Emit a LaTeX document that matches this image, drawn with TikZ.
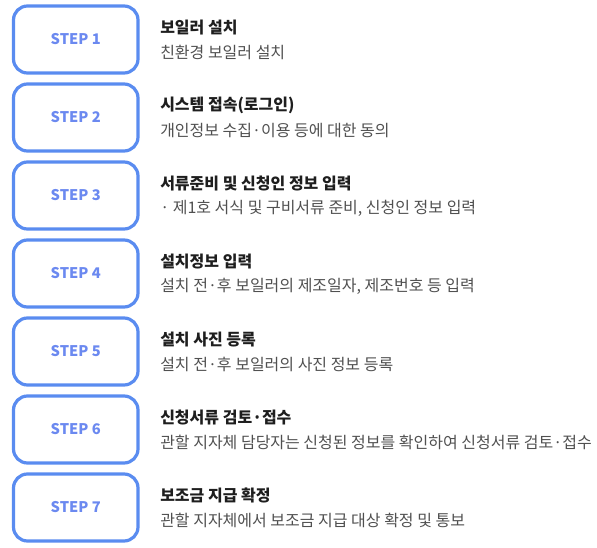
\documentclass[tikz,border=0pt]{standalone}
\usepackage{fontspec}
\setmainfont{Noto Sans CJK KR}
\newfontfamily\kr{Noto Sans CJK KR}
\definecolor{boxblue}{HTML}{5A8CF0}
\definecolor{steptxt}{HTML}{6B89F0}
\definecolor{titletxt}{HTML}{1E1E1E}
\definecolor{desctxt}{HTML}{505050}
\tikzset{
  stepbox/.style={draw=boxblue, line width=2.4pt, rounded corners=10.5pt, minimum width=124.5*0.75pt, minimum height=67*0.75pt, inner sep=0pt, text=steptxt, font=\kr\fontsize{11pt}{13pt}\selectfont\bfseries},
  titlelbl/.style={anchor=west, inner sep=0pt, text=titletxt, font=\kr\fontsize{12pt}{14pt}\selectfont\bfseries},
  desclbl/.style={anchor=west, inner sep=0pt, text=desctxt, font=\kr\fontsize{12pt}{14pt}\selectfont},
}
\begin{document}
\begin{tikzpicture}[x=0.75pt,y=-0.75pt]
\useasboundingbox (0,0) rectangle (597,547);
\foreach \i/\t/\d in {
 1/{보일러 설치}/{친환경 보일러 설치},
 2/{시스템 접속(로그인)}/{개인정보 수집·이용 등에 대한 동의},
 3/{서류준비 및 신청인 정보 입력}/{· 제1호 서식 및 구비서류 준비, 신청인 정보 입력},
 4/{설치정보 입력}/{설치 전·후 보일러의 제조일자, 제조번호 등 입력},
 5/{설치 사진 등록}/{설치 전·후 보일러의 사진 정보 등록},
 6/{신청서류 검토·접수}/{관할 지자체 담당자는 신청된 정보를 확인하여 신청서류 검토·접수},
 7/{보조금 지급 확정}/{관할 지자체에서 보조금 지급 대상 확정 및 통보}}{
  \pgfmathsetmacro{\ytop}{6+78*(\i-1)}
  \node[stepbox] (s\i) at (75.75,\ytop+33.5) {STEP \i};
  \node[titlelbl] (t\i) at (160,\ytop+21.5) {\t};
  \node[desclbl] (d\i) at (160,\ytop+46.5) {\d};
}
\end{tikzpicture}
\end{document}
